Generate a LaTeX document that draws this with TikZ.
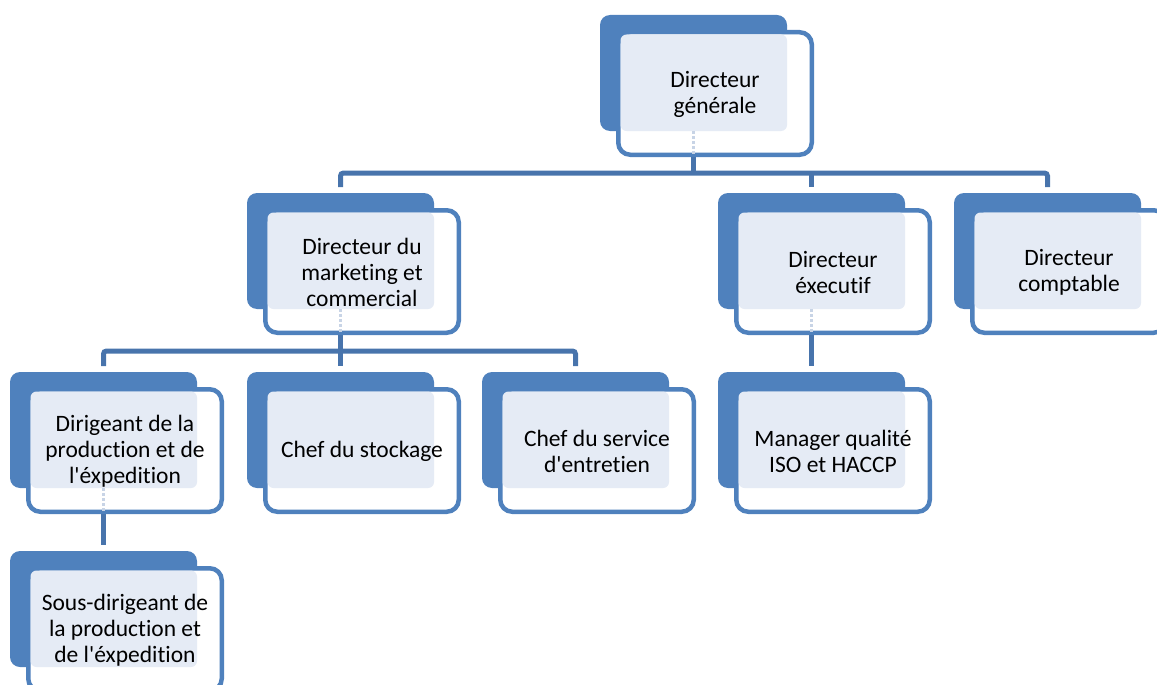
\documentclass[tikz,border=0pt]{standalone}
\usepackage{fontspec}
\setmainfont{Carlito}[Ligatures={NoCommon}]
\usetikzlibrary{calc,backgrounds}
\definecolor{backblue}{RGB}{79,129,189}
\definecolor{connblue}{RGB}{72,116,172}
\definecolor{patfill}{RGB}{229,235,245}
\definecolor{dotline}{RGB}{200,212,230}
\tikzset{
  backbox/.style={fill=backblue, draw=none, rounded corners=10pt, minimum width=187pt, minimum height=116pt, inner sep=0pt, outer sep=0pt},
  frontbox/.style={fill=white, draw=backblue, line width=4.5pt, rounded corners=12pt, minimum width=193.5pt, minimum height=122.5pt, inner sep=0pt, outer sep=0pt},
  patregion/.style={fill=patfill, rounded corners=6pt},
  txt/.style={align=center, font=\fontsize{23.5}{26}\selectfont, text=black, inner sep=0pt},
  conn/.style={draw=connblue, line width=5pt, rounded corners=3pt},
  seethrough/.style={draw=dotline, line width=3pt, dotted},
}
\newcommand{\orgbox}[4]{%
  \node[backbox] (#1b) at (#2+93.5,#3+58) {};
  \node[frontbox] (#1f) at (#2+115,#3+78.5) {};
  \fill[patregion] (#2+20.5,#3+19.5) rectangle (#2+187,#3+116);
  \node[txt] (#1) at ($(#1f.center)+(0,1)$) {#4};
}
\begin{document}
\begin{tikzpicture}[x=1pt,y=-1pt]
\useasboundingbox (0,0) rectangle (1157,685);
\coordinate (lvlA) at (0,173);
\coordinate (lvlB) at (0,351);
\orgbox{top}{600}{15}{Directeur\\générale}
\orgbox{mkt}{247}{193}{Directeur du\\marketing et\\commercial}
\orgbox{exe}{718}{193}{Directeur\\éxecutif}
\orgbox{cpt}{954}{193}{Directeur\\comptable}
\orgbox{dir}{10}{372}{Dirigeant de la\\production et de\\l\textquotesingle éxpedition}
\orgbox{stk}{247}{372}{Chef du stockage}
\orgbox{svc}{482}{372}{Chef du service\\d\textquotesingle entretien}
\orgbox{mgr}{718}{372}{Manager qualité\\ISO et HACCP}
\orgbox{sous}{10}{551}{Sous-dirigeant de\\la production et\\de l\textquotesingle éxpedition}
% see-through connector traces
\draw[seethrough] (topb.south) -- (topb |- topf.south);
\draw[seethrough] (mktb.south) -- (mktb |- mktf.south);
\draw[seethrough] (exeb.south) -- (exeb |- exef.south);
\draw[seethrough] (dirb.south) -- (dirb |- dirf.south);
\begin{scope}[on background layer]
  \draw[conn] (topb |- topf.south) -- (topb |- lvlA);
  \draw[conn] ($(mktb.north)+(0,-6)$) -- (mktb |- lvlA) -- (cptb |- lvlA) -- ($(cptb.north)+(0,-6)$);
  \draw[conn] (exeb |- lvlA) -- ($(exeb.north)+(0,-6)$);
  \draw[conn] (mktb |- mktf.south) -- (mktb |- lvlB);
  \draw[conn] ($(dirb.north)+(0,-6)$) -- (dirb |- lvlB) -- (svcb |- lvlB) -- ($(svcb.north)+(0,-6)$);
  \draw[conn] (stkb |- lvlB) -- ($(stkb.north)+(0,-6)$);
  \draw[conn] (exeb |- exef.south) -- ($(mgrb.north)+(0,-6)$);
  \draw[conn] (dirb |- dirf.south) -- ($(sousb.north)+(0,-6)$);
\end{scope}
\end{tikzpicture}
\end{document}
